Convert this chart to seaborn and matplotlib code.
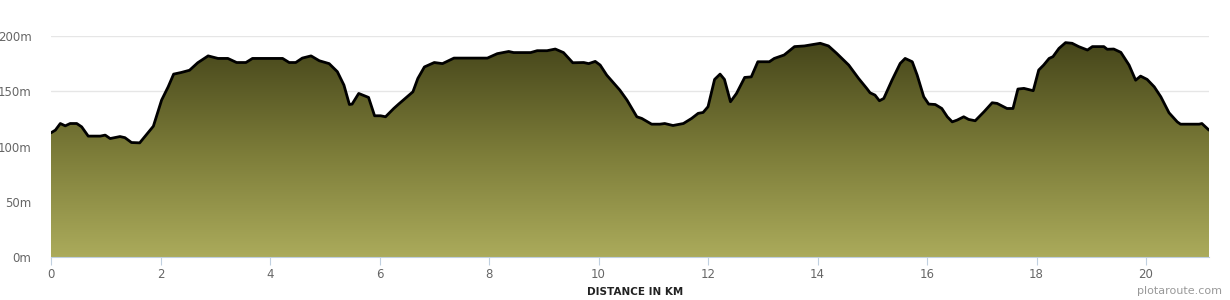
import numpy as np
import pandas as pd
import seaborn as sns
import matplotlib
matplotlib.use("Agg")
import matplotlib.pyplot as plt
from matplotlib.colors import LinearSegmentedColormap

distance_km = [
    0.00, 0.08, 0.17, 0.26, 0.35, 0.47, 0.56, 0.68, 0.90, 0.99, 1.08, 1.26, 1.35, 1.47, 1.62,
    1.72, 1.87, 2.02, 2.14, 2.24, 2.38, 2.53, 2.68, 2.87, 3.05, 3.23, 3.39, 3.56, 3.68, 4.23,
    4.35, 4.47, 4.59, 4.75, 4.90, 5.08, 5.23, 5.35, 5.45, 5.50, 5.62, 5.80, 5.91, 6.02, 6.11,
    6.26, 6.35, 6.52, 6.61, 6.70, 6.82, 7.00, 7.15, 7.36, 7.97, 8.15, 8.36, 8.45, 8.76, 8.88,
    9.06, 9.21, 9.36, 9.53, 9.73, 9.82, 9.94, 10.03, 10.15, 10.39, 10.52, 10.70, 10.79, 10.97,
    11.12, 11.21, 11.36, 11.55, 11.70, 11.82, 11.91, 12.00, 12.12, 12.22, 12.30, 12.41, 12.52,
    12.67, 12.79, 12.91, 13.12, 13.21, 13.39, 13.58, 13.76, 14.05, 14.20, 14.35, 14.57, 14.75,
    14.90, 14.96, 15.05, 15.13, 15.21, 15.36, 15.51, 15.60, 15.73, 15.82, 15.94, 16.03, 16.15,
    16.27, 16.37, 16.46, 16.55, 16.67, 16.76, 16.88, 17.04, 17.19, 17.28, 17.46, 17.57, 17.66,
    17.77, 17.94, 18.04, 18.13, 18.23, 18.30, 18.41, 18.53, 18.65, 18.77, 18.93, 19.02, 19.23,
    19.29, 19.41, 19.54, 19.69, 19.81, 19.90, 20.02, 20.15, 20.27, 20.42, 20.57, 20.63, 20.97,
    21.02, 21.15,
]
elevation_m = [
    112.4, 114.8, 120.8, 118.7, 120.8, 120.8, 117.8, 109.4, 109.4, 110.3, 107.2, 109.0, 108.0, 103.6, 103.3,
    109.4, 118.4, 142.0, 154.0, 165.5, 167.0, 169.0, 175.8, 182.0, 179.7, 179.7, 176.0, 176.0, 179.7, 179.7,
    176.0, 176.0, 180.0, 182.0, 177.6, 175.0, 167.7, 155.6, 138.0, 138.4, 148.0, 144.4, 127.8, 127.8, 126.9,
    134.4, 138.4, 145.6, 149.5, 161.6, 172.0, 176.0, 175.0, 180.0, 180.0, 184.0, 186.0, 185.0, 185.0, 186.7,
    186.7, 188.2, 185.0, 175.8, 176.0, 175.0, 177.0, 173.7, 164.6, 151.0, 142.0, 126.9, 125.4, 120.2,
    120.2, 120.8, 119.0, 120.8, 125.4, 130.0, 130.8, 136.0, 160.7, 165.5, 160.7, 140.5, 148.0,
    162.5, 163.0, 176.7, 176.7, 179.7, 182.8, 190.4, 191.0, 193.4, 191.0, 184.3, 173.7, 161.6,
    152.5, 148.6, 146.5, 141.4, 143.5, 160.0, 175.2, 179.7, 176.7, 164.6, 145.0, 138.4, 138.0,
    134.4, 126.9, 122.3, 123.9, 126.9, 124.5, 123.3, 131.4, 139.6, 139.0, 134.4, 134.4, 152.0,
    152.6, 150.5, 169.2, 173.7, 179.7, 181.3, 188.8, 194.0, 193.4, 190.4, 187.3, 190.4, 190.4,
    188.0, 188.2, 185.2, 173.7, 160.0, 163.7, 160.7, 154.0, 145.0, 130.5, 122.3, 120.2, 120.2,
    120.8, 114.8,
]
y_ticks = [0, 50, 100, 150, 200]
y_tick_labels = ["0m", "50m", "100m", "150m", "200m"]
x_ticks = [0, 2, 4, 6, 8, 10, 12, 14, 16, 18, 20]

df = pd.DataFrame({"distance": distance_km, "elevation": elevation_m})

sns.set_style("white")
fig = plt.figure(figsize=(12.3, 3.0), dpi=100)
ax = fig.add_axes([51 / 1230, 1 - 257 / 300, (1209 - 51) / 1230, (257 - 36) / 300])

xmax = df["distance"].max()
ax.set_xlim(0, xmax)
ax.set_ylim(0, 200)

# gradient fill clipped to the area under the profile
cmap = LinearSegmentedColormap.from_list("olive", ["#abab5b", "#7b7b38", "#45451a"])
grad = np.linspace(0, 1, 256).reshape(-1, 1)
im = ax.imshow(grad, extent=[0, xmax, 0, max(elevation_m)], origin="lower",
               cmap=cmap, aspect="auto", zorder=2)
poly = ax.fill_between(df["distance"], 0, df["elevation"], color="none", lw=0)
clip = poly.get_paths()[0]
im.set_clip_path(clip, transform=ax.transData)

sns.lineplot(data=df, x="distance", y="elevation", ax=ax, color="black",
             lw=2.0, zorder=3, sort=False)
for ln in ax.lines:
    ln.set_solid_joinstyle("round")
    ln.set_solid_capstyle("round")

ax.set_yticks(y_ticks)
ax.set_yticklabels(y_tick_labels)
ax.set_xticks(x_ticks)
ax.grid(axis="y", color="#e6e6e6", lw=1, zorder=0)
ax.set_axisbelow(True)
for s in ["top", "right", "left"]:
    ax.spines[s].set_visible(False)
ax.spines["bottom"].set_color("#c0d0e0")
ax.spines["bottom"].set_linewidth(0.8)
ax.tick_params(axis="y", length=0, labelsize=8.5, labelcolor="#666666", pad=14)
ax.tick_params(axis="x", length=6, width=0.8, color="#c0d0e0", labelsize=8.5,
               labelcolor="#666666", pad=2, bottom=True)
ax.set_xlabel("")
ax.set_ylabel("")

fig.text(635 / 1230, 1 - 292 / 300, "DISTANCE IN KM", ha="center", va="center",
         fontsize=7.5, fontweight="bold", color="#222222")
fig.text(1222 / 1230, 1 - 291 / 300, "plotaroute.com", ha="right", va="center",
         fontsize=8, color="#999999")

fig.savefig("out.png", dpi=100)
